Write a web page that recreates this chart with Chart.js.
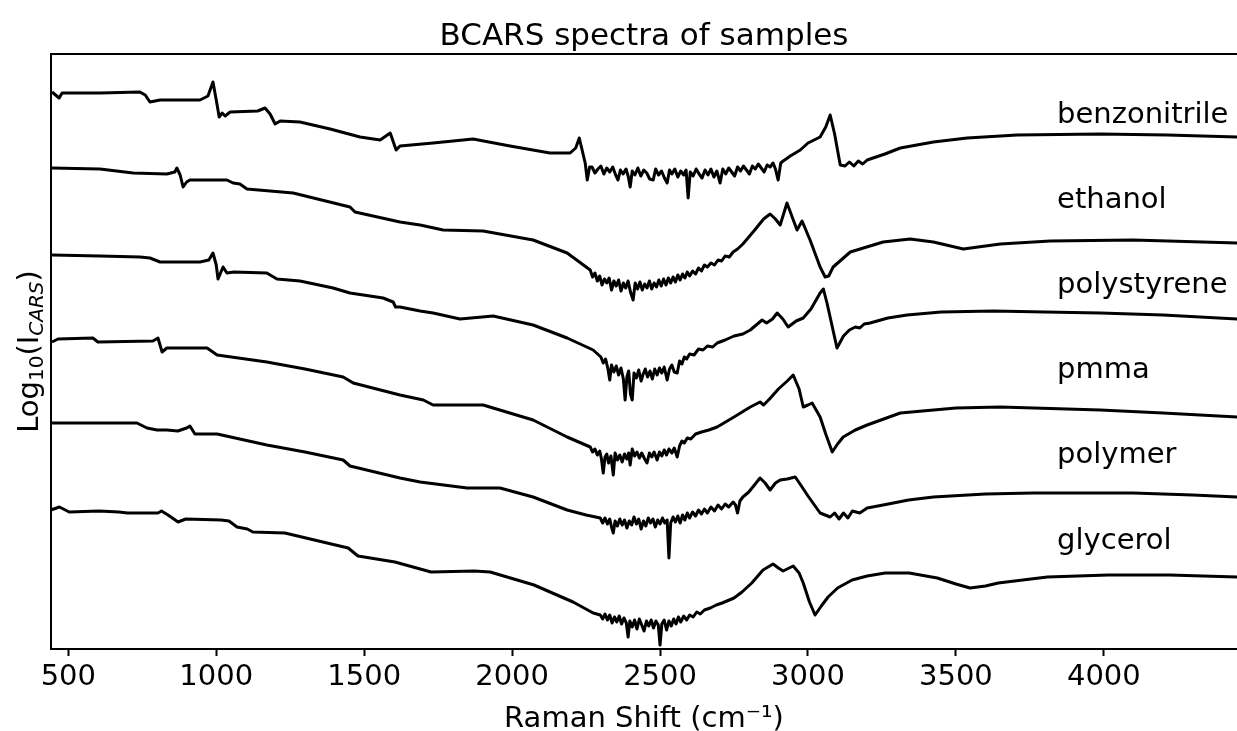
<!DOCTYPE html>
<html>
<head>
<meta charset="utf-8">
<title>BCARS spectra of samples</title>
<script src="https://cdn.jsdelivr.net/npm/chart.js@4.4.0/dist/chart.umd.min.js"></script>
<style>
    html, body { margin: 0; padding: 0; background: #fff; }
    #wrap { width: 1237px; height: 731px; }
</style>
</head>
<body>
<div id="wrap"><canvas id="bcarsChart" width="1237" height="731"></canvas></div>
<script>
// Sample names, top trace to bottom trace
const sampleNames = ['benzonitrile', 'ethanol', 'polystyrene', 'pmma', 'polymer', 'glycerol'];

// Where the name of each trace sits (x in cm-1, y in offset log units)
const labelX = 3842;
const labelY = [5.34, 4.49, 3.64, 2.79, 1.94, 1.08];

// x axis ticks and range
const tickValues = [500, 1000, 1500, 2000, 2500, 3000, 3500, 4000];
const xMin = 441.5;
const xMax = 4450;

// Spectra as [Raman shift (cm-1), log10 intensity + offset]
const benzonitrile = [
    [445, 5.57], [469, 5.51], [479, 5.56], [607, 5.56], [742, 5.57], [760, 5.54], [776, 5.47], [810, 5.49], [945, 5.49], [972, 5.53],
    [989, 5.67], [1000, 5.49], [1010, 5.32], [1020, 5.36], [1030, 5.33], [1047, 5.37], [1140, 5.38], [1165, 5.41], [1182, 5.35], [1199, 5.25],
    [1216, 5.28], [1283, 5.27], [1385, 5.20], [1486, 5.12], [1554, 5.09], [1588, 5.16], [1608, 4.99], [1621, 5.03], [1733, 5.06], [1868, 5.10],
    [1993, 5.03], [2128, 4.96], [2196, 4.96], [2215, 5.01], [2227, 5.11], [2247, 4.86], [2254, 4.69], [2262, 4.82],
    [2270, 4.82], [2280, 4.76], [2290, 4.80], [2300, 4.83], [2310, 4.75], [2320, 4.81], [2330, 4.77], [2340, 4.82], [2350, 4.74],
    [2358, 4.69], [2366, 4.79], [2375, 4.75], [2385, 4.80], [2393, 4.72], [2399, 4.62], [2406, 4.78], [2415, 4.74], [2425, 4.81],
    [2435, 4.73], [2445, 4.79], [2455, 4.76], [2465, 4.70], [2477, 4.69], [2485, 4.80], [2495, 4.74], [2505, 4.78], [2515, 4.71],
    [2524, 4.66], [2532, 4.79], [2540, 4.75], [2550, 4.80], [2560, 4.72], [2570, 4.78], [2580, 4.74], [2588, 4.79], [2595, 4.51],
    [2602, 4.77], [2612, 4.73], [2622, 4.80], [2632, 4.75], [2642, 4.71], [2652, 4.79], [2662, 4.74], [2672, 4.80], [2682, 4.72],
    [2692, 4.78], [2703, 4.66], [2712, 4.80], [2722, 4.75], [2732, 4.81], [2742, 4.77], [2752, 4.73], [2762, 4.82], [2772, 4.78],
    [2782, 4.83], [2792, 4.79], [2802, 4.75], [2812, 4.83], [2822, 4.80], [2832, 4.85], [2842, 4.81], [2852, 4.77], [2862, 4.84],
    [2872, 4.82], [2882, 4.86], [2890, 4.80], [2899, 4.69], [2908, 4.86], [2916, 4.88], [2926, 4.90], [2940, 4.93],
    [2974, 4.99], [3000, 5.06], [3041, 5.12], [3060, 5.22], [3075, 5.34], [3090, 5.15], [3109, 4.84], [3125, 4.83], [3140, 4.87],
    [3155, 4.83], [3170, 4.88], [3185, 4.85], [3200, 4.89], [3260, 4.95], [3312, 5.01], [3424, 5.07], [3538, 5.11], [3707, 5.14],
    [3988, 5.15], [4214, 5.14], [4451, 5.12]
];

const ethanol = [
    [445, 4.81], [607, 4.80], [719, 4.76], [833, 4.75], [860, 4.77], [867, 4.81], [878, 4.74], [888, 4.62], [900, 4.67], [911, 4.69],
    [1036, 4.69], [1057, 4.66], [1080, 4.65], [1104, 4.60], [1260, 4.56], [1452, 4.42], [1469, 4.37], [1621, 4.27], [1689, 4.24], [1767, 4.19],
    [1902, 4.18], [2071, 4.09], [2186, 3.96], [2264, 3.79],
    [2272, 3.72], [2280, 3.76], [2288, 3.68], [2296, 3.73], [2304, 3.64], [2312, 3.70], [2320, 3.66], [2328, 3.71], [2336, 3.59],
    [2344, 3.68], [2352, 3.63], [2360, 3.69], [2368, 3.58], [2376, 3.66], [2384, 3.61], [2392, 3.68], [2400, 3.57], [2409, 3.49],
    [2416, 3.66], [2424, 3.60], [2432, 3.67], [2440, 3.59], [2448, 3.65], [2456, 3.61], [2464, 3.68], [2472, 3.60], [2480, 3.66],
    [2488, 3.62], [2496, 3.69], [2504, 3.63], [2512, 3.70], [2520, 3.64], [2528, 3.71], [2536, 3.66], [2544, 3.72], [2552, 3.67],
    [2560, 3.74], [2568, 3.69], [2576, 3.75], [2584, 3.71], [2592, 3.77], [2600, 3.73], [2610, 3.78], [2620, 3.75], [2630, 3.81],
    [2640, 3.78], [2650, 3.84], [2660, 3.82], [2672, 3.86], [2684, 3.84], [2696, 3.89], [2708, 3.88], [2720, 3.93], [2734, 3.92],
    [2747, 3.97], [2762, 4.00], [2780, 4.05], [2800, 4.12], [2820, 4.19], [2850, 4.30], [2872, 4.35], [2890, 4.30], [2906, 4.24],
    [2929, 4.46], [2963, 4.19], [2980, 4.28], [3007, 4.09], [3041, 3.82], [3058, 3.72], [3070, 3.73], [3085, 3.82], [3143, 3.97],
    [3254, 4.07], [3345, 4.10], [3424, 4.07], [3525, 4.00], [3650, 4.05], [3819, 4.08], [4099, 4.09], [4451, 4.06]
];

const polystyrene = [
    [445, 3.94], [607, 3.93], [742, 3.92], [776, 3.91], [810, 3.87], [945, 3.87], [975, 3.89], [989, 3.96], [1000, 3.84], [1006, 3.70],
    [1023, 3.82], [1036, 3.76], [1060, 3.77], [1171, 3.76], [1205, 3.70], [1283, 3.68], [1395, 3.61], [1452, 3.56], [1564, 3.51], [1598, 3.47],
    [1606, 3.42], [1621, 3.42], [1689, 3.38], [1733, 3.36], [1824, 3.30], [1936, 3.33], [2071, 3.24], [2186, 3.11], [2274, 2.99],
    [2300, 2.92], [2308, 2.86], [2316, 2.90], [2324, 2.80], [2330, 2.69], [2336, 2.84], [2344, 2.77], [2352, 2.83], [2360, 2.74],
    [2368, 2.81], [2376, 2.70], [2382, 2.49], [2388, 2.72], [2394, 2.78], [2400, 2.55], [2406, 2.49], [2412, 2.76], [2420, 2.71],
    [2428, 2.79], [2436, 2.68], [2443, 2.75], [2450, 2.80], [2458, 2.72], [2466, 2.78], [2474, 2.70], [2482, 2.80], [2490, 2.74],
    [2498, 2.81], [2506, 2.76], [2514, 2.82], [2524, 2.69], [2532, 2.80], [2540, 2.84], [2548, 2.77], [2558, 2.76], [2566, 2.88],
    [2574, 2.85], [2582, 2.92], [2590, 2.90], [2600, 2.95], [2615, 2.94], [2630, 3.00], [2645, 2.99], [2660, 3.03], [2678, 3.02],
    [2693, 3.06], [2720, 3.09], [2750, 3.13], [2780, 3.15], [2805, 3.19], [2825, 3.24], [2845, 3.29], [2860, 3.26], [2880, 3.30],
    [2896, 3.36], [2915, 3.30], [2933, 3.22], [2960, 3.28], [2984, 3.31], [3010, 3.40], [3041, 3.56], [3052, 3.60], [3065, 3.45],
    [3080, 3.25], [3098, 3.01], [3120, 3.13], [3140, 3.19], [3160, 3.22], [3175, 3.21], [3190, 3.25], [3210, 3.26], [3270, 3.31],
    [3335, 3.34], [3450, 3.37], [3626, 3.38], [3800, 3.37], [3988, 3.36], [4200, 3.34], [4451, 3.30]
];

const pmma = [
    [445, 3.07], [465, 3.10], [583, 3.11], [600, 3.07], [786, 3.08], [803, 3.11], [817, 2.97], [833, 3.01], [969, 3.01], [1003, 2.94],
    [1171, 2.87], [1300, 2.80], [1429, 2.72], [1463, 2.66], [1621, 2.54], [1700, 2.49], [1733, 2.44], [1902, 2.44], [2071, 2.29], [2186, 2.12],
    [2264, 2.02], [2272, 1.97], [2280, 2.00], [2288, 1.94], [2296, 1.98], [2302, 1.90], [2308, 1.76], [2314, 1.92], [2320, 1.95],
    [2326, 1.86], [2334, 1.93], [2342, 1.74], [2348, 1.96], [2356, 1.89], [2364, 1.94], [2372, 1.87], [2380, 1.95], [2388, 1.90],
    [2394, 1.96], [2399, 1.84], [2406, 2.00], [2414, 1.93], [2422, 1.97], [2430, 1.91], [2438, 1.96], [2448, 1.90], [2456, 1.86],
    [2464, 1.96], [2472, 1.92], [2480, 1.97], [2490, 1.89], [2498, 1.97], [2506, 1.93], [2514, 1.99], [2522, 1.94], [2530, 2.00],
    [2540, 1.96], [2548, 2.01], [2558, 1.92], [2566, 2.03], [2574, 2.08], [2582, 2.06], [2592, 2.11], [2604, 2.10], [2620, 2.15],
    [2640, 2.17], [2665, 2.19], [2693, 2.22], [2750, 2.32], [2805, 2.42], [2838, 2.47], [2850, 2.44], [2870, 2.50], [2900, 2.60],
    [2930, 2.68], [2950, 2.74], [2970, 2.60], [2984, 2.42], [3000, 2.44], [3014, 2.46], [3041, 2.32], [3060, 2.15], [3082, 1.97],
    [3100, 2.05], [3119, 2.12], [3160, 2.19], [3200, 2.24], [3312, 2.36], [3500, 2.41], [3650, 2.42], [3988, 2.39], [4200, 2.36],
    [4451, 2.32]
];

const polymer = [
    [445, 2.26], [607, 2.26], [732, 2.26], [766, 2.21], [800, 2.19], [833, 2.19], [870, 2.18], [900, 2.21], [911, 2.23], [928, 2.15],
    [1003, 2.15], [1171, 2.04], [1300, 1.97], [1429, 1.89], [1452, 1.83], [1621, 1.71], [1689, 1.67], [1848, 1.61], [1959, 1.61], [2071, 1.52],
    [2186, 1.39], [2250, 1.34], [2298, 1.31], [2306, 1.26], [2314, 1.31], [2322, 1.25], [2330, 1.30], [2336, 1.22], [2342, 1.16],
    [2348, 1.28], [2356, 1.23], [2364, 1.30], [2372, 1.24], [2380, 1.29], [2388, 1.21], [2396, 1.28], [2404, 1.24], [2412, 1.32],
    [2420, 1.25], [2428, 1.30], [2436, 1.20], [2444, 1.28], [2452, 1.23], [2460, 1.31], [2468, 1.26], [2476, 1.30], [2484, 1.22],
    [2492, 1.29], [2500, 1.25], [2508, 1.31], [2516, 1.26], [2524, 1.29], [2530, 0.91], [2536, 1.26], [2544, 1.32], [2552, 1.27],
    [2560, 1.33], [2568, 1.26], [2576, 1.34], [2584, 1.29], [2592, 1.36], [2600, 1.31], [2610, 1.37], [2620, 1.33], [2630, 1.39],
    [2640, 1.35], [2650, 1.40], [2660, 1.36], [2672, 1.42], [2684, 1.38], [2696, 1.44], [2708, 1.40], [2720, 1.45], [2732, 1.42],
    [2747, 1.47], [2755, 1.44], [2762, 1.36], [2770, 1.48], [2780, 1.52], [2800, 1.57], [2838, 1.71], [2855, 1.66], [2872, 1.59],
    [2890, 1.66], [2906, 1.69], [2930, 1.70], [2957, 1.72], [2980, 1.62], [3000, 1.53], [3041, 1.36], [3075, 1.32], [3090, 1.36],
    [3105, 1.30], [3120, 1.36], [3135, 1.31], [3150, 1.38], [3175, 1.36], [3200, 1.41], [3254, 1.44], [3340, 1.49], [3424, 1.52],
    [3600, 1.55], [3761, 1.56], [4099, 1.56], [4300, 1.54], [4451, 1.52]
];

const glycerol = [
    [441, 1.39], [470, 1.42], [503, 1.37], [604, 1.38], [671, 1.37], [700, 1.36], [803, 1.36], [815, 1.38], [837, 1.34], [871, 1.27],
    [897, 1.30], [1016, 1.29], [1043, 1.28], [1070, 1.22], [1105, 1.20], [1124, 1.17], [1232, 1.16], [1446, 1.01], [1479, 0.93], [1604, 0.87],
    [1726, 0.77], [1872, 0.78], [1926, 0.77], [2074, 0.64], [2206, 0.47], [2274, 0.36],
    [2298, 0.34], [2306, 0.30], [2314, 0.35], [2322, 0.29], [2330, 0.34], [2338, 0.26], [2346, 0.32], [2354, 0.27], [2362, 0.33],
    [2370, 0.25], [2378, 0.31], [2386, 0.26], [2392, 0.12], [2398, 0.28], [2406, 0.22], [2414, 0.29], [2422, 0.20], [2430, 0.30],
    [2438, 0.24], [2446, 0.18], [2454, 0.28], [2462, 0.23], [2470, 0.29], [2478, 0.21], [2486, 0.28], [2494, 0.24], [2500, 0.04],
    [2506, 0.25], [2514, 0.29], [2522, 0.19], [2530, 0.28], [2538, 0.23], [2546, 0.30], [2554, 0.25], [2562, 0.32], [2570, 0.27],
    [2580, 0.33], [2590, 0.29], [2600, 0.34], [2612, 0.32], [2624, 0.37], [2636, 0.35], [2650, 0.39], [2670, 0.41], [2690, 0.44],
    [2710, 0.46], [2750, 0.51], [2777, 0.57], [2810, 0.66], [2848, 0.79], [2882, 0.85], [2900, 0.81], [2916, 0.78], [2950, 0.83],
    [2970, 0.76], [2984, 0.66], [3005, 0.47], [3024, 0.34], [3045, 0.43], [3068, 0.52], [3100, 0.61], [3149, 0.69], [3200, 0.73],
    [3261, 0.76], [3342, 0.76], [3437, 0.71], [3500, 0.65], [3548, 0.61], [3600, 0.63], [3643, 0.66], [3809, 0.72], [4015, 0.74],
    [4221, 0.74], [4451, 0.72]
];

const spectra = [benzonitrile, ethanol, polystyrene, pmma, polymer, glycerol];

const FONT = '"DejaVu Sans", "Liberation Sans", sans-serif';

// Frame, title, axis labels and trace names
const decorations = {
    id: 'decorations',
    afterDraw(chart) {
        const { ctx, chartArea: a, scales } = chart;
        ctx.save();

        // spines (the right one falls outside the picture)
        ctx.strokeStyle = '#000';
        ctx.lineWidth = 2;
        ctx.beginPath();
        ctx.moveTo(a.right + 4, a.top);
        ctx.lineTo(a.left, a.top);
        ctx.lineTo(a.left, a.bottom);
        ctx.lineTo(a.right + 4, a.bottom);
        ctx.stroke();

        ctx.fillStyle = '#000';
        ctx.textBaseline = 'middle';

        // names of the traces
        ctx.font = '29px ' + FONT;
        ctx.textAlign = 'left';
        sampleNames.forEach((name, i) => {
            ctx.fillText(name, scales.x.getPixelForValue(labelX), scales.y.getPixelForValue(labelY[i]));
        });

        const midX = (a.left + a.right) / 2;

        // title
        ctx.textAlign = 'center';
        ctx.textBaseline = 'alphabetic';
        ctx.font = '31px ' + FONT;
        ctx.fillText('BCARS spectra of samples', midX, 45);

        // x label
        ctx.font = '29px ' + FONT;
        ctx.fillText('Raman Shift (cm\u207B\u00B9)', midX, 727);

        // y label: Log10(I_CARS), built piece by piece, rotated
        const parts = [
            { t: 'Log', f: '29px ' + FONT, dy: 0 },
            { t: '10', f: '20px ' + FONT, dy: 5 },
            { t: '(I', f: '29px ' + FONT, dy: 0 },
            { t: 'CARS', f: 'italic 20px ' + FONT, dy: 5 },
            { t: ')', f: '29px ' + FONT, dy: 0 }
        ];
        let total = 0;
        parts.forEach(p => { ctx.font = p.f; p.w = ctx.measureText(p.t).width; total += p.w; });
        ctx.translate(38, (a.top + a.bottom) / 2);
        ctx.rotate(-Math.PI / 2);
        ctx.textAlign = 'left';
        let px = -total / 2;
        parts.forEach(p => {
            ctx.font = p.f;
            ctx.fillText(p.t, px, p.dy);
            px += p.w;
        });

        ctx.restore();
    }
};

const ctx = document.getElementById('bcarsChart').getContext('2d');
new Chart(ctx, {
    type: 'line',
    data: {
        datasets: sampleNames.map((name, i) => ({
            label: name,
            data: spectra[i].map(p => ({ x: p[0], y: p[1] })),
            borderColor: '#000',
            borderWidth: 3,
            borderJoinStyle: 'round',
            pointRadius: 0,
            tension: 0,
            fill: false
        }))
    },
    options: {
        responsive: false,
        animation: false,
        events: [],
        layout: { padding: { left: 51, top: 54, right: 0, bottom: 0 } },
        plugins: {
            legend: { display: false },
            tooltip: { enabled: false },
            title: { display: false }
        },
        scales: {
            x: {
                type: 'linear',
                min: xMin,
                max: xMax,
                afterBuildTicks: scale => { scale.ticks = tickValues.map(v => ({ value: v })); },
                afterFit: scale => { scale.height = 82; },
                grid: { display: true, drawOnChartArea: false, drawTicks: true, tickLength: 7, tickWidth: 2, color: '#000' },
                border: { display: false },
                ticks: {
                    color: '#000',
                    font: { family: FONT, size: 29 },
                    padding: 4,
                    maxRotation: 0,
                    callback: value => String(value)
                }
            },
            y: {
                display: false,
                min: 0,
                max: 5.95
            }
        }
    },
    plugins: [decorations]
});
</script>
</body>
</html>
